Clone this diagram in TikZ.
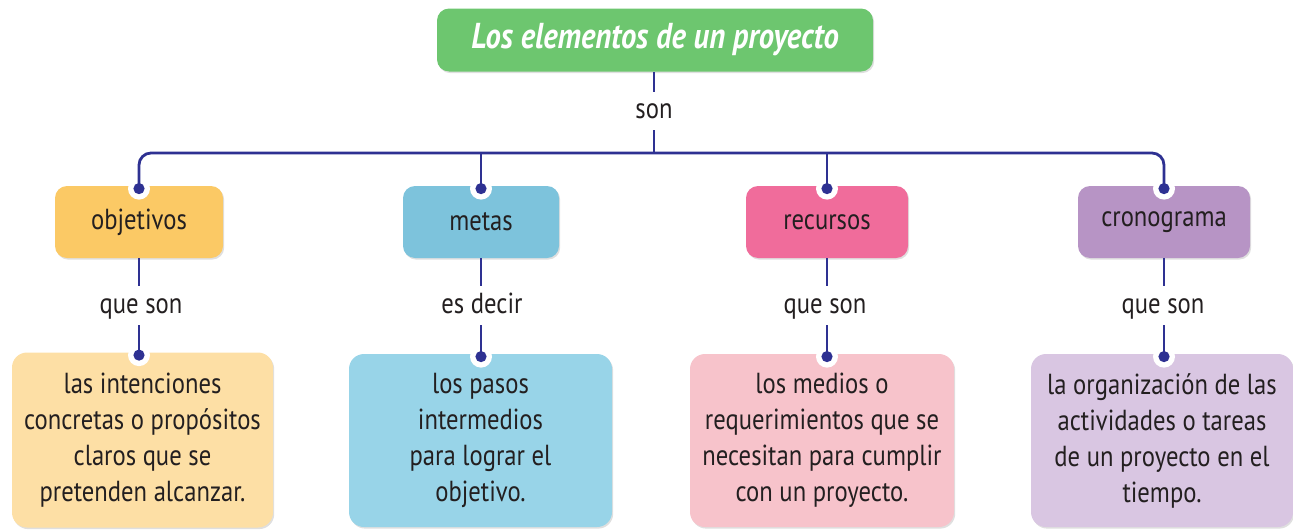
\documentclass[tikz,border=0pt]{standalone}
\usepackage{fontspec}
\setmainfont{PT Sans}[FakeStretch=0.85]
\usepackage{tikz}
\usetikzlibrary{positioning,shadows}

\definecolor{linea}{HTML}{2E3192}
\definecolor{texto}{HTML}{231F20}
\definecolor{verde}{HTML}{6DC66F}
\definecolor{naranja}{HTML}{FBC965}
\definecolor{naranjaclaro}{HTML}{FDDFA5}
\definecolor{celeste}{HTML}{7DC3DC}
\definecolor{celesteclaro}{HTML}{98D4E8}
\definecolor{rosa}{HTML}{F06C9B}
\definecolor{rosaclaro}{HTML}{F7C3CB}
\definecolor{lila}{HTML}{B794C5}
\definecolor{lilaclaro}{HTML}{D9C6E2}

\begin{document}
\begin{tikzpicture}[
            x=0.5pt, y=-0.5pt,
            caja/.style={rounded corners=6pt, text=texto, align=center,
                font=\fontsize{14.5}{18}\selectfont,
                drop shadow={opacity=0.25, shadow xshift=0.6pt, shadow yshift=-0.8pt}},
            concepto/.style={caja, minimum height=36pt, inner sep=0pt, fill=#1},
            definicion/.style={caja, rounded corners=7.5pt, minimum height=86.5pt, inner sep=0pt, fill=#1},
            enlace/.style={text=texto, font=\fontsize{14.5}{18}\selectfont, inner sep=0pt,
                text height=10pt, text depth=3pt},
            conector/.style={draw=linea, line width=1.4pt}
        ]
        \useasboundingbox (0,0) rectangle (1293,530);

        \node[caja, fill=verde, text=white, minimum width=218pt, minimum height=31.5pt, inner sep=0pt,
            font=\fontsize{18}{20}\selectfont\bfseries\itshape] (titulo) at (655,40) {Los elementos de un proyecto};
        \node[enlace] (son) at (654,111) {son};
        \coordinate (barra) at (654,153);

        % conceptos
        \node[concepto=naranja, minimum width=84pt] (obj) at (139,222) {objetivos};
        \node[concepto=celeste, minimum width=78pt] (met) at (481,222) {metas};
        \node[concepto=rosa, minimum width=81pt] (rec) at (827,222) {recursos};
        \node[concepto=lila, minimum width=86pt] (cro) at (1164,222) {cronograma};

        % palabras de enlace
        \node[enlace] (q1) at (141,306) {que son};
        \node[enlace] (q2) at (482,306) {es decir};
        \node[enlace] (q3) at (825,306) {que son};
        \node[enlace] (q4) at (1163,306) {que son};

        % definiciones
        \node[definicion=naranjaclaro, minimum width=130.5pt, minimum height=87.5pt] (objd) at (142.5,440)
            {las intenciones\\concretas o propósitos\\claros que se\\pretenden alcanzar.};
        \node[definicion=celesteclaro, minimum width=131.5pt] (metd) at (480.5,440.5)
            {los pasos\\intermedios\\para lograr el\\objetivo.};
        \node[definicion=rosaclaro, minimum width=132pt] (recd) at (822,440.5)
            {los medios o\\requerimientos que se\\necesitan para cumplir\\con un proyecto.};
        \node[definicion=lilaclaro, minimum width=131pt] (crod) at (1162,440.5)
            {la organización de las\\actividades o tareas\\de un proyecto en el\\tiempo.};

        \foreach \a/\c in {obj/objd, met/metd, rec/recd, cro/crod} {
            \coordinate (\a-p) at ([yshift=-1.5pt]\a.north);
            \coordinate (\c-p) at ([yshift=-1.5pt]\a.north |- \c.north);
            \fill[white] (\a-p) circle (5.5pt) (\c-p) circle (5.5pt);
        }

        \draw[conector] (son |- titulo.south) -- ([yshift=3pt]son.north);
        \draw[conector] ([yshift=-3pt]son.south) -- (barra);
        \draw[conector, rounded corners=6pt] (obj-p) -- (obj-p |- barra)
            -- (cro-p |- barra) -- (cro-p);
        \draw[conector] (met-p) -- (met-p |- barra);
        \draw[conector] (rec-p) -- (rec-p |- barra);

        \foreach \a/\b/\c in {obj/q1/objd, met/q2/metd, rec/q3/recd, cro/q4/crod} {
            \draw[conector] (\a.south) -- ([yshift=3.5pt]\a.south |- \b.north);
            \draw[conector] ([yshift=-3pt]\a.south |- \b.south) -- (\c-p);
            \fill[linea] (\a-p) circle (2.8pt) (\c-p) circle (2.8pt);
        }
        \end{tikzpicture}
\end{document}
